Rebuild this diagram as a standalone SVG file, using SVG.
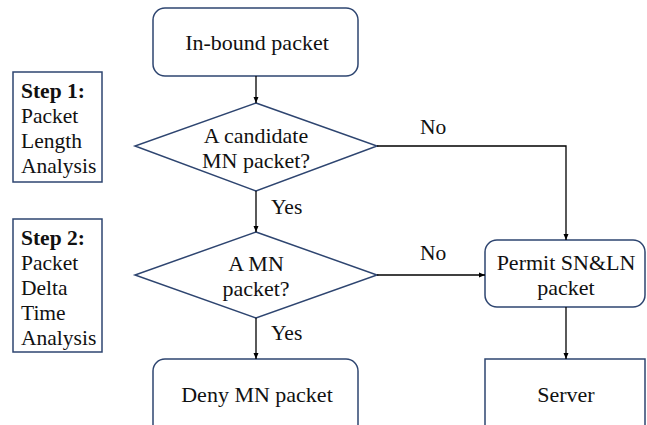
<svg xmlns="http://www.w3.org/2000/svg" width="647" height="425" viewBox="0 0 647 425">
<defs>
<marker id="ah" markerWidth="8" markerHeight="8" refX="7" refY="4" orient="auto" markerUnits="userSpaceOnUse">
<path d="M1,1.5 L7,4 L1,6.5 Z" fill="#000"/>
</marker>
<style>
.n{fill:#fff;stroke:#2E4570;stroke-width:1.5}
.t{font-family:"Liberation Serif","DejaVu Serif",serif;font-size:22px;fill:#111;text-anchor:middle}
.s{font-family:"Liberation Serif","DejaVu Serif",serif;font-size:21.5px;fill:#111}
.b{font-weight:bold}
.c{fill:none;stroke:#000;stroke-width:1.3;marker-end:url(#ah)}
</style>
</defs>
<rect width="647" height="425" fill="#fff"/>
<g id="step1">
<rect class="n" x="13" y="72" width="89" height="110"/>
<text class="s" x="21" y="98"><tspan class="b">Step 1:</tspan><tspan x="21" dy="25">Packet</tspan><tspan x="21" dy="25">Length</tspan><tspan x="21" dy="25">Analysis</tspan></text>
</g>
<g id="step2">
<rect class="n" x="13" y="219" width="89" height="133"/>
<text class="s" x="21" y="245"><tspan class="b">Step 2:</tspan><tspan x="21" dy="25">Packet</tspan><tspan x="21" dy="25">Delta</tspan><tspan x="21" dy="25">Time</tspan><tspan x="21" dy="25">Analysis</tspan></text>
</g>
<g id="inbound">
<rect class="n" x="153" y="8" width="205" height="68" rx="12"/>
<text class="t" x="257" y="50">In-bound packet</text>
</g>
<g id="decision1">
<polygon class="n" points="256,103 377,146 256,191 135,146"/>
<text class="t" x="256" y="143">A candidate</text>
<text class="t" x="256" y="168">MN packet?</text>
</g>
<g id="decision2">
<polygon class="n" points="256,232 377,275 256,318 135,275"/>
<text class="t" x="256" y="271">A MN</text>
<text class="t" x="256" y="296">packet?</text>
</g>
<g id="deny">
<rect class="n" x="153" y="359" width="205" height="80" rx="12"/>
<text class="t" x="257" y="402">Deny MN packet</text>
</g>
<g id="permit">
<rect class="n" x="485" y="240" width="160" height="67" rx="12"/>
<text class="t" x="566" y="270">Permit SN&amp;LN</text>
<text class="t" x="566" y="295">packet</text>
</g>
<g id="server">
<rect class="n" x="485" y="359" width="160" height="80"/>
<text class="t" x="566" y="402">Server</text>
</g>
<g id="connectors">
<path class="c" d="M256,76 V103"/>
<path class="c" d="M256,191 V232"/>
<path class="c" d="M256,318 V359"/>
<path class="c" d="M377,146 H566 V240"/>
<path class="c" d="M377,275 H485"/>
<path class="c" d="M566,307 V359"/>
<text class="s" x="271" y="214">Yes</text>
<text class="s" x="271" y="340">Yes</text>
<text class="s" x="420" y="134">No</text>
<text class="s" x="420" y="260">No</text>
</g>
</svg>
